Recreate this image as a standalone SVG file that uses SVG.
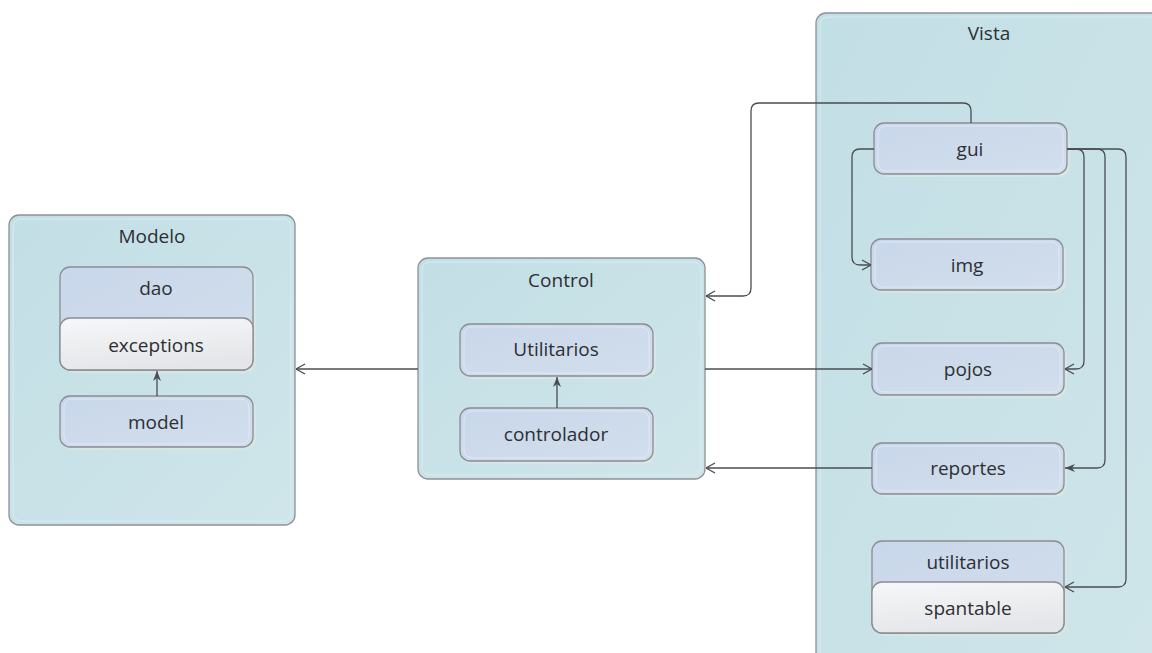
<svg xmlns="http://www.w3.org/2000/svg" width="1152" height="653" viewBox="0 0 1152 653">
  <defs>
    <linearGradient id="pkgFill" x1="0" y1="0" x2="1" y2="1">
      <stop offset="0" stop-color="#c2dfe5"/>
      <stop offset="1" stop-color="#cfe5ea"/>
    </linearGradient>
    <linearGradient id="nodeFill" x1="0" y1="0" x2="1" y2="1">
      <stop offset="0" stop-color="#c8d7ea"/>
      <stop offset="1" stop-color="#d2deec"/>
    </linearGradient>
    <linearGradient id="subFill" x1="0" y1="0" x2="0.3" y2="1">
      <stop offset="0" stop-color="#f6f7f8"/>
      <stop offset="1" stop-color="#e4e6e9"/>
    </linearGradient>
    <marker id="open" viewBox="0 0 10 12" refX="10" refY="6" markerWidth="10" markerHeight="12" markerUnits="userSpaceOnUse" orient="auto">
      <path d="M1,1 L10,6 L1,11" fill="none" stroke="#4a4d52" stroke-width="1.3"/>
    </marker>
    <marker id="solid" viewBox="0 0 10 10" refX="10" refY="5" markerWidth="10" markerHeight="10" markerUnits="userSpaceOnUse" orient="auto">
      <path d="M0,1 L10,5 L0,9 L3,5 Z" fill="#4a4d52"/>
    </marker>
  </defs>
  <style>
    .pkg { fill: url(#pkgFill); stroke: #8d9196; stroke-width: 1.3; }
    .pkgHi { fill: none; stroke: #d9edf1; stroke-width: 1; }
    .node { fill: url(#nodeFill); stroke: #8a8c93; stroke-width: 1.3; }
    .nodeHi { fill: none; stroke: #dfe8f3; stroke-width: 1; }
    .shade { fill: #d6e6e3; }
    .sub { fill: url(#subFill); stroke: #8a8c93; stroke-width: 1.3; }
    .lbl { font-family: "Open Sans", "Noto Sans", sans-serif; font-size: 19px; fill: #2e2f33; text-anchor: middle; dominant-baseline: central; }
    .edge { fill: none; stroke: #4a4d52; stroke-width: 1.3; }
  </style>

  <!-- Modelo package -->
  <g id="pkg-modelo">
    <rect class="pkg" x="9" y="215" width="286" height="310" rx="10"/>
    <rect class="pkgHi" x="13" y="219" width="278" height="302" rx="8"/>
    <text class="lbl" x="152" y="236">Modelo</text>
  </g>
  <g id="node-dao">
    <rect class="shade" x="63" y="270" width="193" height="103" rx="10"/>
    <rect class="node" x="60" y="267" width="193" height="103" rx="10"/>
    <text class="lbl" x="156" y="288">dao</text>
  </g>
  <g id="node-exceptions">
    <rect class="sub" x="60" y="318" width="193" height="52" rx="10"/>
    <text class="lbl" x="156" y="345">exceptions</text>
  </g>
  <g id="node-model">
    <rect class="shade" x="63" y="399" width="193" height="51" rx="10"/>
    <rect class="node" x="60" y="396" width="193" height="51" rx="10"/>
    <rect class="nodeHi" x="64" y="399" width="185" height="45" rx="8"/>
    <text class="lbl" x="156" y="422">model</text>
  </g>

  <!-- Control package -->
  <g id="pkg-control">
    <rect class="pkg" x="418" y="258" width="287" height="221" rx="10"/>
    <rect class="pkgHi" x="422" y="262" width="279" height="213" rx="8"/>
    <text class="lbl" x="561" y="280">Control</text>
  </g>
  <g id="node-utilitarios-control">
    <rect class="shade" x="463" y="327" width="193" height="52" rx="10"/>
    <rect class="node" x="460" y="324" width="193" height="52" rx="10"/>
    <rect class="nodeHi" x="464" y="327" width="185" height="46" rx="8"/>
    <text class="lbl" x="556" y="349">Utilitarios</text>
  </g>
  <g id="node-controlador">
    <rect class="shade" x="463" y="411" width="193" height="53" rx="10"/>
    <rect class="node" x="460" y="408" width="193" height="53" rx="10"/>
    <rect class="nodeHi" x="464" y="411" width="185" height="47" rx="8"/>
    <text class="lbl" x="556" y="434">controlador</text>
  </g>

  <!-- Vista package -->
  <g id="pkg-vista">
    <rect class="pkg" x="816" y="13" width="350" height="660" rx="10"/>
    <rect class="pkgHi" x="820" y="17" width="342" height="652" rx="8"/>
    <text class="lbl" x="989" y="33">Vista</text>
  </g>
  <g id="node-gui">
    <rect class="shade" x="877" y="126" width="193" height="51" rx="10"/>
    <rect class="node" x="874" y="123" width="193" height="51" rx="10"/>
    <rect class="nodeHi" x="878" y="126" width="185" height="45" rx="8"/>
    <text class="lbl" x="970" y="149">gui</text>
  </g>
  <g id="node-img">
    <rect class="shade" x="874" y="242" width="192" height="51" rx="10"/>
    <rect class="node" x="871" y="239" width="192" height="51" rx="10"/>
    <rect class="nodeHi" x="875" y="242" width="184" height="45" rx="8"/>
    <text class="lbl" x="967" y="265">img</text>
  </g>
  <g id="node-pojos">
    <rect class="shade" x="875" y="346" width="192" height="52" rx="10"/>
    <rect class="node" x="872" y="343" width="192" height="52" rx="10"/>
    <rect class="nodeHi" x="876" y="346" width="184" height="46" rx="8"/>
    <text class="lbl" x="968" y="369">pojos</text>
  </g>
  <g id="node-reportes">
    <rect class="shade" x="875" y="446" width="192" height="51" rx="10"/>
    <rect class="node" x="872" y="443" width="192" height="51" rx="10"/>
    <rect class="nodeHi" x="876" y="446" width="184" height="45" rx="8"/>
    <text class="lbl" x="968" y="468">reportes</text>
  </g>
  <g id="node-utilitarios-vista">
    <rect class="shade" x="875" y="544" width="192" height="92" rx="10"/>
    <rect class="node" x="872" y="541" width="192" height="92" rx="10"/>
    <text class="lbl" x="968" y="562">utilitarios</text>
  </g>
  <g id="node-spantable">
    <rect class="sub" x="872" y="582" width="192" height="51" rx="10"/>
    <text class="lbl" x="968" y="608">spantable</text>
  </g>

  <!-- Dependencies -->
  <g id="connectors">
    <path class="edge" d="M157,396 V371" marker-end="url(#solid)"/>
    <path class="edge" d="M557,408 V377" marker-end="url(#solid)"/>
    <path class="edge" d="M418,369 H296" marker-end="url(#open)"/>
    <path class="edge" d="M971,123 V111 Q971,103 963,103 H759 Q751,103 751,111 V288 Q751,296 743,296 H706" marker-end="url(#open)"/>
    <path class="edge" d="M874,149 H860 Q852,149 852,157 V257 Q852,265 860,265 H871" marker-end="url(#open)"/>
    <path class="edge" d="M705,369 H872" marker-end="url(#open)"/>
    <path class="edge" d="M872,468 H706" marker-end="url(#open)"/>
    <path class="edge" d="M1067,149 H1076 Q1084,149 1084,157 V361 Q1084,369 1076,369 H1065" marker-end="url(#open)"/>
    <path class="edge" d="M1067,149 H1097 Q1105,149 1105,157 V460 Q1105,468 1097,468 H1065" marker-end="url(#solid)"/>
    <path class="edge" d="M1067,149 H1118 Q1126,149 1126,157 V579 Q1126,587 1118,587 H1065" marker-end="url(#open)"/>
  </g>
</svg>
